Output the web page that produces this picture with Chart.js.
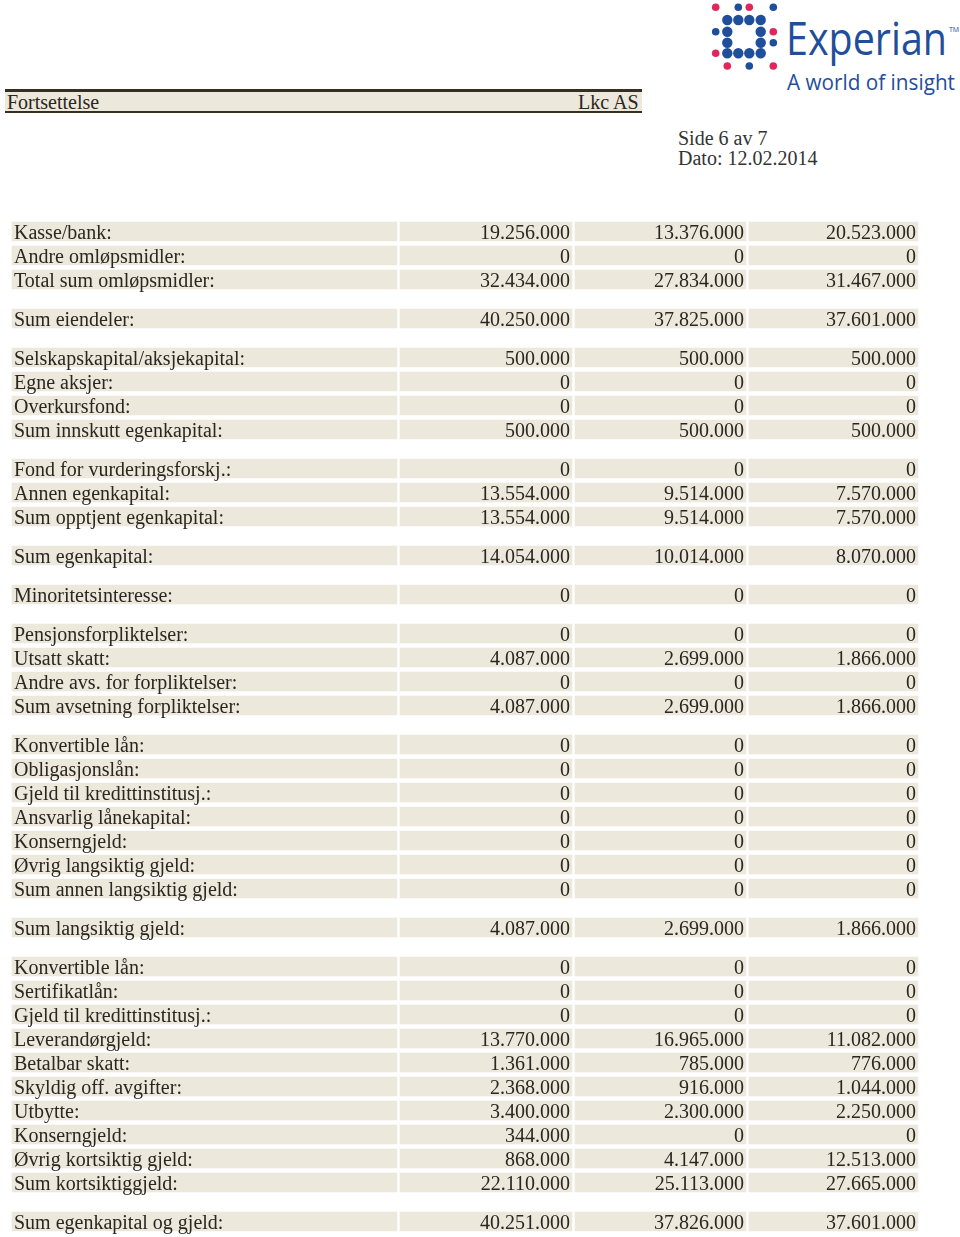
<!DOCTYPE html>
<html>
<head>
<meta charset="utf-8">
<script src="https://cdn.jsdelivr.net/npm/chart.js@4.4.0/dist/chart.umd.min.js"></script>
<style>
  body { margin: 0; background: #fff; }
  #side { position: relative; width: 960px; height: 1237px; overflow: hidden; font-family: "Liberation Serif", "Times New Roman", serif; color: #2a2620; }
  #tabell { position: absolute; left: 0; top: 0; }
  .linje { position: absolute; left: 5px; width: 637px; background: #352f22; }
  .band { position: absolute; left: 5px; top: 92px; width: 637px; height: 19px; background: #ece8dc; }
  .tekst { position: absolute; font-size: 20px; line-height: 20px; white-space: nowrap; }
  #logo { position: absolute; left: 700px; top: 0; }
</style>
</head>
<body>
<div id="side">
  <svg id="logo" width="260" height="100"></svg>
  <div class="band"></div>
  <div class="linje" style="top:89px;height:3px"></div>
  <div class="linje" style="top:111px;height:2px"></div>
  <div class="tekst" style="left:7px;top:92px">Fortsettelse</div>
  <div class="tekst" style="left:578px;top:92px">Lkc AS</div>
  <div class="tekst" style="left:678px;top:128px;color:#333">Side 6 av 7</div>
  <div class="tekst" style="left:678px;top:148px;color:#333">Dato: 12.02.2014</div>
  <canvas id="tabell" width="960" height="1237"></canvas>
</div>

<script>
// radene i tabellen
const etiketter = [
  "Kasse/bank:", "Andre omløpsmidler:", "Total sum omløpsmidler:",
  "Sum eiendeler:",
  "Selskapskapital/aksjekapital:", "Egne aksjer:", "Overkursfond:", "Sum innskutt egenkapital:",
  "Fond for vurderingsforskj.:", "Annen egenkapital:", "Sum opptjent egenkapital:",
  "Sum egenkapital:",
  "Minoritetsinteresse:",
  "Pensjonsforpliktelser:", "Utsatt skatt:", "Andre avs. for forpliktelser:", "Sum avsetning forpliktelser:",
  "Konvertible lån:", "Obligasjonslån:", "Gjeld til kredittinstitusj.:", "Ansvarlig lånekapital:",
  "Konserngjeld:", "Øvrig langsiktig gjeld:", "Sum annen langsiktig gjeld:",
  "Sum langsiktig gjeld:",
  "Konvertible lån:", "Sertifikatlån:", "Gjeld til kredittinstitusj.:", "Leverandørgjeld:",
  "Betalbar skatt:", "Skyldig off. avgifter:", "Utbytte:", "Konserngjeld:",
  "Øvrig kortsiktig gjeld:", "Sum kortsiktiggjeld:",
  "Sum egenkapital og gjeld:"
];

const periode1 = [
  19256000, 0, 32434000,
  40250000,
  500000, 0, 0, 500000,
  0, 13554000, 13554000,
  14054000,
  0,
  0, 4087000, 0, 4087000,
  0, 0, 0, 0, 0, 0, 0,
  4087000,
  0, 0, 0, 13770000, 1361000, 2368000, 3400000, 344000, 868000, 22110000,
  40251000
];

const periode2 = [
  13376000, 0, 27834000,
  37825000,
  500000, 0, 0, 500000,
  0, 9514000, 9514000,
  10014000,
  0,
  0, 2699000, 0, 2699000,
  0, 0, 0, 0, 0, 0, 0,
  2699000,
  0, 0, 0, 16965000, 785000, 916000, 2300000, 0, 4147000, 25113000,
  37826000
];

const periode3 = [
  20523000, 0, 31467000,
  37601000,
  500000, 0, 0, 500000,
  0, 7570000, 7570000,
  8070000,
  0,
  0, 1866000, 0, 1866000,
  0, 0, 0, 0, 0, 0, 0,
  1866000,
  0, 0, 0, 11082000, 776000, 1044000, 2250000, 0, 12513000, 27665000,
  37601000
];

// rad-indeks der en ny gruppe starter (luft foran)
const gruppeStart = [0, 3, 4, 8, 11, 12, 13, 17, 24, 25, 35];

// layout
const radHoyde = 24;
const luft = 15 / radHoyde;
const forsteRad = 231.5;
const kolonner = [
  { fra: 12, til: 397 },
  { fra: 400, til: 572 },
  { fra: 575, til: 746 },
  { fra: 749, til: 918 }
];
const celleFarge = "#ece8dc";
const tekstFarge = "#2a2620";

// posisjon for hver rad på y-aksen
const posisjon = etiketter.map((_, i) => {
  const g = gruppeStart.filter((s) => s <= i).length - 1;
  return i + g * luft;
});

function formater(v) {
  return String(v).replace(/\B(?=(\d{3})+(?!\d))/g, ".");
}

const kolonneVerdier = [null, periode1, periode2, periode3];

const tekstPlugin = {
  id: "tekst",
  afterDatasetsDraw(chart) {
    const ctx = chart.ctx;
    const xs = chart.scales.x;
    const ys = chart.scales.y;
    ctx.save();
    ctx.font = '20px "Liberation Serif", "Times New Roman", serif';
    ctx.fillStyle = tekstFarge;
    ctx.textBaseline = "alphabetic";
    etiketter.forEach((navn, i) => {
      const y = ys.getPixelForValue(posisjon[i]) + 7;
      ctx.textAlign = "left";
      ctx.fillText(navn, xs.getPixelForValue(kolonner[0].fra + 2), y);
      ctx.textAlign = "right";
      for (let k = 1; k < 4; k++) {
        ctx.fillText(formater(kolonneVerdier[k][i]), xs.getPixelForValue(kolonner[k].til - 2), y);
      }
    });
    ctx.restore();
  }
};

new Chart(document.getElementById("tabell"), {
  type: "bar",
  data: {
    datasets: kolonner.map((kol) => ({
      data: posisjon.map((p) => ({ x: [kol.fra, kol.til], y: p })),
      backgroundColor: celleFarge,
      borderWidth: 0,
      barThickness: 19,
      grouped: false
    }))
  },
  options: {
    indexAxis: "y",
    responsive: false,
    animation: false,
    events: [],
    layout: { padding: 0 },
    plugins: { legend: { display: false }, tooltip: { enabled: false } },
    scales: {
      x: { type: "linear", display: false, min: 0, max: 960 },
      y: {
        type: "linear",
        display: false,
        reverse: true,
        offset: false,
        min: -forsteRad / radHoyde,
        max: (1237 - forsteRad) / radHoyde
      }
    }
  },
  plugins: [tekstPlugin]
});

// Experian-logo
const logo = document.getElementById("logo");
const ns = "http://www.w3.org/2000/svg";
const blaa = "#1f4e9b";
const rosa = "#e0265c";
const prikkX = [15.7, 27.3, 38.3, 49.3, 60.7, 73.3];
const prikkY = [7.3, 20, 31.7, 42.7, 53.3, 66];
// [kolonne, rad, farge, stor]
const prikker = [
  [0, 0, rosa, 0], [2, 0, blaa, 0], [3, 0, rosa, 0], [5, 0, blaa, 0],
  [1, 1, blaa, 1], [2, 1, blaa, 1], [3, 1, blaa, 1], [4, 1, blaa, 1],
  [0, 2, blaa, 0], [1, 2, blaa, 1], [4, 2, blaa, 1], [5, 2, rosa, 0],
  [1, 3, blaa, 1], [4, 3, blaa, 1], [5, 3, blaa, 0],
  [0, 4, rosa, 0], [1, 4, blaa, 1], [2, 4, blaa, 1], [3, 4, blaa, 1], [4, 4, blaa, 1],
  [1, 5, rosa, 0], [3, 5, blaa, 0], [5, 5, rosa, 0]
];
prikker.forEach(([c, r, farge, stor]) => {
  const el = document.createElementNS(ns, "circle");
  el.setAttribute("cx", prikkX[c]);
  el.setAttribute("cy", prikkY[r]);
  el.setAttribute("r", stor ? 5.2 : 3.8);
  el.setAttribute("fill", farge);
  logo.appendChild(el);
});

function logoTekst(tekst, x, y, size, lengde) {
  const t = document.createElementNS(ns, "text");
  t.setAttribute("x", x);
  t.setAttribute("y", y);
  t.setAttribute("font-size", size);
  t.setAttribute("font-family", "Open Sans, Liberation Sans, sans-serif");
  t.setAttribute("fill", blaa);
  if (lengde) {
    t.setAttribute("textLength", lengde);
    t.setAttribute("lengthAdjust", "spacingAndGlyphs");
  }
  t.textContent = tekst;
  logo.appendChild(t);
}
logoTekst("Experian", 86, 55, 45, 161);
logoTekst("TM", 249, 32, 7, 0);
logoTekst("A world of insight", 87, 90, 21, 168);
</script>
</body>
</html>
